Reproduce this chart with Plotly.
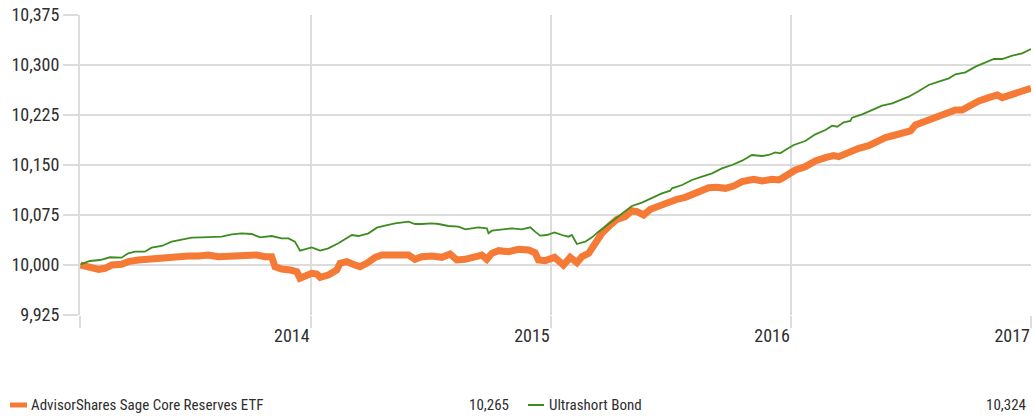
import plotly.graph_objects as go

# ---- data (time in decimal years, growth of 10,000) ----
etf_t = [2013.042, 2013.076, 2013.118, 2013.144, 2013.172, 2013.213, 2013.241, 2013.283, 2013.324, 2013.366,
         2013.408, 2013.449, 2013.491, 2013.533, 2013.574, 2013.616, 2013.658, 2013.699, 2013.741, 2013.776,
         2013.810, 2013.838, 2013.852, 2013.880, 2013.915, 2013.943, 2013.956, 2013.977, 2014.005, 2014.026,
         2014.040, 2014.074, 2014.109, 2014.123, 2014.151, 2014.185, 2014.206, 2014.234, 2014.269, 2014.297,
         2014.338, 2014.373, 2014.408, 2014.435, 2014.463, 2014.505, 2014.547, 2014.581, 2014.609, 2014.644,
         2014.685, 2014.713, 2014.734, 2014.755, 2014.783, 2014.824, 2014.866, 2014.908, 2014.935, 2014.949,
         2014.977, 2015.016, 2015.053, 2015.081, 2015.109, 2015.130, 2015.158, 2015.185, 2015.213, 2015.248,
         2015.276, 2015.310, 2015.338, 2015.359, 2015.387, 2015.415, 2015.449, 2015.491, 2015.526, 2015.560,
         2015.595, 2015.623, 2015.658, 2015.693, 2015.727, 2015.762, 2015.797, 2015.845, 2015.880, 2015.922,
         2015.949, 2015.963, 2015.991, 2016.019, 2016.060, 2016.102, 2016.144, 2016.178, 2016.199, 2016.241,
         2016.283, 2016.324, 2016.352, 2016.394, 2016.435, 2016.477, 2016.498, 2016.519, 2016.560, 2016.602,
         2016.644, 2016.685, 2016.713, 2016.748, 2016.783, 2016.824, 2016.859, 2016.880, 2016.908, 2016.949,
         2016.977, 2017.000]
etf_v = [10000, 9996.5, 9993.5, 9995, 10000, 10001, 10005, 10007.5, 10009, 10010,
         10011.5, 10012.5, 10013.5, 10013.5, 10015, 10012.5, 10013.5, 10013.5, 10014, 10015,
         10012.5, 10012.5, 9997.5, 9994, 9992.5, 9990, 9980, 9983.5, 9987.5, 9986.5,
         9981.5, 9985, 9992.5, 10002.5, 10005, 10000, 9997.5, 10002.5, 10011.5, 10015,
         10015, 10017.5, 10015, 10008.5, 10012.5, 10013.5, 10011.5, 10016.5, 10007.5, 10008.5,
         10011.5, 10015, 10008.5, 10017.5, 10021.5, 10020, 10023.5, 10022.5, 10018.5, 10007.5,
         10006.5, 10011.5, 10000, 10011.5, 10003.5, 10012.5, 10017.5, 10032.5, 10047.5, 10060,
         10068.5, 10072.5, 10081.5, 10080, 10075, 10083.5, 10088.5, 10093.5, 10098.5, 10101.5,
         10106.5, 10112.5, 10116, 10116.5, 10115, 10118.5, 10125, 10128.5, 10126, 10128.5,
         10127.5, 10130, 10136.5, 10142.5, 10147.5, 10156, 10161, 10164, 10162.5, 10169,
         10175, 10179, 10184, 10191, 10195, 10200, 10201, 10210, 10216, 10222.5,
         10226, 10232.5, 10232.5, 10240, 10246, 10251, 10255, 10251, 10255, 10259,
         10262.5, 10265]

bond_t = [2013.042, 2013.081, 2013.123, 2013.165, 2013.213, 2013.241, 2013.269, 2013.310, 2013.338, 2013.380,
          2013.422, 2013.463, 2013.505, 2013.547, 2013.588, 2013.630, 2013.672, 2013.713, 2013.755, 2013.790,
          2013.838, 2013.880, 2013.908, 2013.935, 2013.956, 2013.991, 2014.005, 2014.026, 2014.040, 2014.074,
          2014.116, 2014.172, 2014.199, 2014.241, 2014.276, 2014.310, 2014.352, 2014.408, 2014.435, 2014.463,
          2014.505, 2014.533, 2014.574, 2014.616, 2014.644, 2014.672, 2014.699, 2014.734, 2014.741, 2014.755,
          2014.797, 2014.838, 2014.880, 2014.915, 2014.935, 2014.956, 2014.984, 2015.016, 2015.047, 2015.074,
          2015.088, 2015.109, 2015.144, 2015.172, 2015.199, 2015.227, 2015.255, 2015.297, 2015.338, 2015.380,
          2015.422, 2015.463, 2015.498, 2015.505, 2015.547, 2015.588, 2015.630, 2015.672, 2015.713, 2015.755,
          2015.797, 2015.838, 2015.880, 2015.908, 2015.935, 2015.956, 2015.977, 2016.012, 2016.060, 2016.102,
          2016.144, 2016.172, 2016.193, 2016.220, 2016.248, 2016.255, 2016.297, 2016.338, 2016.380, 2016.422,
          2016.456, 2016.491, 2016.533, 2016.574, 2016.616, 2016.658, 2016.685, 2016.727, 2016.769, 2016.810,
          2016.845, 2016.880, 2016.922, 2016.963, 2016.991, 2017.000]
bond_v = [10001, 10006, 10007.5, 10011.6, 10011, 10017.6, 10020, 10020, 10026, 10028.5,
          10035, 10037.5, 10041, 10041.5, 10041.5, 10042.5, 10046, 10047.5, 10046.5, 10041.5,
          10043.5, 10040, 10040, 10035, 10021.5, 10025, 10026.5, 10023.5, 10021.5, 10025,
          10032.5, 10045, 10043.5, 10047.5, 10056, 10059, 10062.5, 10065, 10061.5, 10061.5,
          10062.5, 10061.5, 10058.5, 10057.5, 10053.5, 10055, 10056.5, 10055, 10047.5, 10051.5,
          10053.5, 10055, 10053.5, 10056.5, 10050, 10044, 10045, 10049, 10045, 10042.5,
          10045, 10031.5, 10035, 10041.5, 10050, 10057.5, 10065, 10077.5, 10088.5, 10093.5,
          10100, 10107.5, 10111.5, 10115, 10120, 10127.5, 10132.5, 10137.5, 10145, 10150,
          10156.5, 10165, 10163.5, 10165, 10169, 10167.5, 10172.5, 10180, 10186, 10196,
          10202.5, 10209, 10207.5, 10214, 10216, 10221, 10226, 10232.5, 10239, 10242.5,
          10247.5, 10252.5, 10261, 10270, 10275, 10280, 10286, 10289, 10297.5, 10304,
          10309, 10309, 10314, 10317.5, 10322.5, 10324]

series_names = ["AdvisorShares Sage Core Reserves ETF", "Ultrashort Bond"]
final_values = ["10,265", "10,324"]
year_ticks = [2014, 2015, 2016, 2017]
year_labels = ["2014", "2015", "2016", "2017"]

ORANGE = "#F47A36"
GREEN = "#3D8C1F"
GRID = "#DCDCDC"
TEXT = "#2E2E2E"
FONT = "Liberation Sans Narrow, Roboto Condensed, Arial Narrow, sans-serif"

X0 = 2013.04
fig = go.Figure()
fig.add_trace(go.Scatter(x=etf_t, y=etf_v, mode="lines", name=series_names[0],
                         line=dict(color=ORANGE, width=7)))
fig.add_trace(go.Scatter(x=bond_t, y=bond_v, mode="lines", name=series_names[1],
                         line=dict(color=GREEN, width=1.8)))

W, H = 1035, 416
ML, MR, MT, MB = 80, 4, 15, 101
pw, ph = W - ML - MR, H - MT - MB

fig.update_layout(
    width=W, height=H,
    margin=dict(l=ML, r=MR, t=MT, b=MB, autoexpand=False),
    paper_bgcolor="white", plot_bgcolor="white",
    showlegend=False,
    font=dict(family=FONT, size=18, color=TEXT),
    xaxis=dict(range=[X0, 2017.0], tickmode="array",
               tickvals=[X0] + year_ticks, ticktext=[""] + year_labels,
               showgrid=True, gridcolor=GRID, gridwidth=2,
               ticks="outside", ticklen=12, tickwidth=2, tickcolor=GRID,
               ticklabelposition="outside left", ticklabelstandoff=4,
               showline=False, zeroline=False, automargin=False,
               tickfont=dict(family=FONT, size=18, color=TEXT)),
    yaxis=dict(range=[9925, 10375], tick0=9925, dtick=75, tickformat=",d",
               showgrid=True, gridcolor=GRID, gridwidth=2,
               ticks="outside", ticklen=15, tickwidth=2, tickcolor=GRID,
               showline=True, linecolor=GRID, linewidth=2, mirror=False,
               zeroline=False, automargin=False,
               tickfont=dict(family=FONT, size=18, color=TEXT)),
)

def px_x(p):
    return (p - ML) / pw

def px_y(p):
    return (H - MB - p) / ph

leg_y = 405
swatches = [(10, 27, ORANGE, 5), (528, 544, GREEN, 2)]
for x0, x1, col, wd in swatches:
    fig.add_shape(type="line", xref="paper", yref="paper",
                  x0=px_x(x0), x1=px_x(x1), y0=px_y(leg_y), y1=px_y(leg_y),
                  line=dict(color=col, width=wd))

labels = [(29, series_names[0], "left"), (511, final_values[0], "right"),
          (547, series_names[1], "left"), (1028, final_values[1], "right")]
for xp, txt, anc in labels:
    fig.add_annotation(xref="paper", yref="paper", x=px_x(xp), y=px_y(leg_y),
                       text=txt, showarrow=False, xanchor=anc, yanchor="middle",
                       font=dict(family=FONT, size=15, color=TEXT))

fig.write_html("out.html", config={"displayModeBar": False},
               post_script="document.body.style.margin='0';document.body.style.overflow='hidden';")
